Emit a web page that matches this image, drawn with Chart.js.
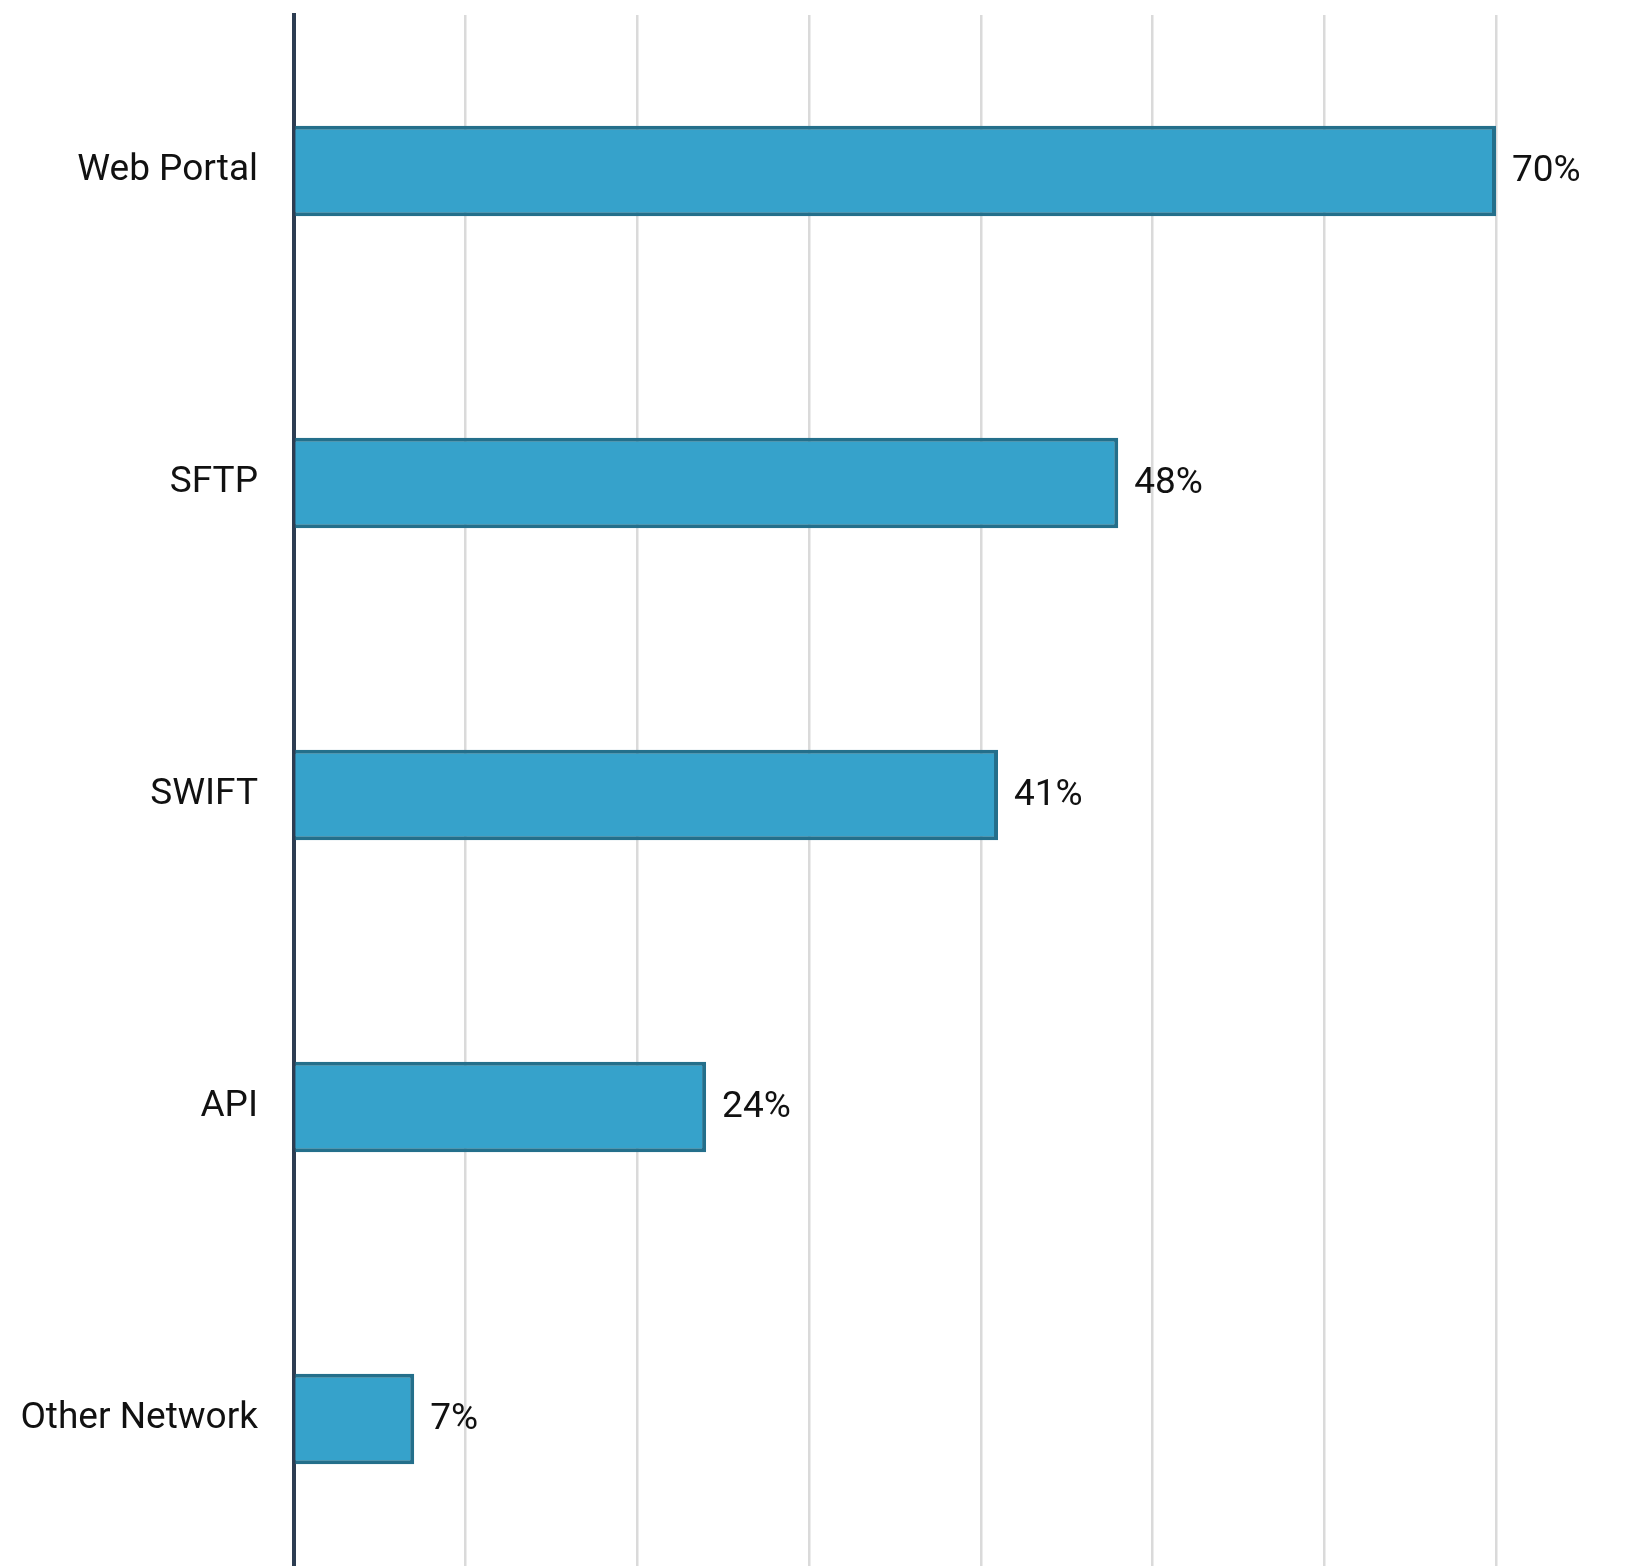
<!DOCTYPE html>
<html>
<head>
<meta charset="utf-8">
<script src="https://cdn.jsdelivr.net/npm/chart.js@4/dist/chart.umd.min.js"></script>
<style>
  html, body { margin: 0; padding: 0; background: #fff; overflow: hidden; }
  #wrap { width: 1652px; height: 1575px; position: relative; }
</style>
</head>
<body>
<div id="wrap"><canvas id="canais"></canvas></div>
<script>
// canais usados, em percentual
var categorias = ['Web Portal', 'SFTP', 'SWIFT', 'API', 'Other Network'];
var valores = [70, 48, 41, 24, 7];
var passo_x = 10;
var max_x = 70;

var cor_barra = '#36a2cb';
var cor_borda = '#246f8b';

// escreve o valor ao lado de cada barra
const rotulos_valor = {
    id: 'rotulos_valor',
    afterDatasetsDraw(chart) {
        const ctx = chart.ctx;
        const meta = chart.getDatasetMeta(0);
        ctx.save();
        ctx.font = '37px Roboto';
        ctx.fillStyle = '#111111';
        ctx.textAlign = 'left';
        ctx.textBaseline = 'middle';
        meta.data.forEach(function(bar, i) {
            ctx.fillText(valores[i] + '%', bar.x + 16, bar.y + 1);
        });
        ctx.restore();
    }
};

const ctx = document.getElementById('canais').getContext('2d');
const grafico = new Chart(ctx, {
    type: 'bar',
    data: {
        labels: categorias,
        datasets: [{
            data: valores,
            backgroundColor: cor_barra,
            borderColor: cor_borda,
            borderWidth: 4,
            borderSkipped: 'start',
            barPercentage: 0.29,
            categoryPercentage: 1
        }]
    },
    options: {
        indexAxis: 'y',
        responsive: true,
        maintainAspectRatio: false,
        animation: false,
        layout: { padding: { top: 15, right: 156, bottom: 0, left: 0 } },
        plugins: {
            legend: { display: false },
            tooltip: { enabled: false }
        },
        scales: {
            x: {
                min: 0,
                max: max_x,
                ticks: { display: false, stepSize: passo_x },
                grid: {
                    drawTicks: false,
                    lineWidth: 2.5,
                    color: function(c) { return c.tick && c.tick.value === 0 ? 'rgba(0,0,0,0)' : '#dadada'; }
                },
                border: { display: false },
                afterFit: function(eixo) {
                    eixo.height = 0;
                    eixo.paddingLeft = 0;
                    eixo.paddingRight = 0;
                }
            },
            y: {
                ticks: {
                    font: { family: 'Roboto', size: 37 },
                    color: '#111111',
                    padding: 36
                },
                grid: { display: false, drawTicks: false },
                border: { display: true, color: '#2d3d52', width: 4 },
                afterFit: function(eixo) {
                    eixo.width = 294;
                    eixo.paddingTop = 0;
                    eixo.paddingBottom = 0;
                }
            }
        }
    },
    plugins: [rotulos_valor]
});
</script>
</body>
</html>
